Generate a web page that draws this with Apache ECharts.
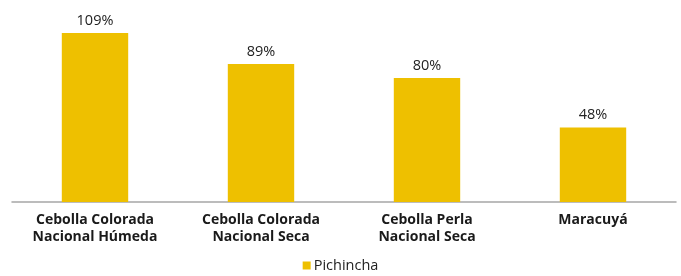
<!DOCTYPE html>
<html>
<head>
<meta charset="utf-8">
<script src="https://cdn.jsdelivr.net/npm/echarts@6/dist/echarts.min.js"></script>
<style>
  html, body { margin: 0; padding: 0; background: #fff; }
  #chart { width: 681px; height: 276px; }
</style>
</head>
<body>
<div id="chart"></div>
<script>
// datos
var categorias = ['Cebolla Colorada\nNacional Húmeda', 'Cebolla Colorada\nNacional Seca', 'Cebolla Perla\nNacional Seca', 'Maracuyá'];
var pichincha = [109, 89, 80, 48];

var chart = echarts.init(document.getElementById('chart'));
var option = {
    animation: false,
    color: ['#EEC000'],
    textStyle: { fontFamily: 'Open Sans' },
    grid: { left: 12, right: 5, top: 16, bottom: 74 },
    legend: {
        bottom: -2,
        left: 'center',
        itemWidth: 8,
        itemHeight: 8,
        itemGap: 4,
        icon: 'rect',
        textStyle: { fontSize: 14.5, color: '#222', fontFamily: 'Open Sans', padding: [0, 0, 0, -2] },
        data: ['Pichincha']
    },
    xAxis: {
        type: 'category',
        data: categorias,
        axisTick: { show: false },
        axisLine: { lineStyle: { color: '#A6A6A6', width: 1.5 } },
        axisLabel: {
            interval: 0,
            fontSize: 14,
            fontWeight: 'bold',
            color: '#1a1a1a',
            lineHeight: 17,
            margin: 10
        }
    },
    yAxis: {
        type: 'value',
        min: 0,
        max: 120,
        show: false,
        splitLine: { show: false }
    },
    series: [{
        name: 'Pichincha',
        type: 'bar',
        data: pichincha,
        barWidth: '40%',
        label: {
            show: true,
            position: 'top',
            formatter: '{c}%',
            fontSize: 14.5,
            color: '#222',
            distance: 5
        }
    }]
};
chart.setOption(option);
</script>
</body>
</html>
